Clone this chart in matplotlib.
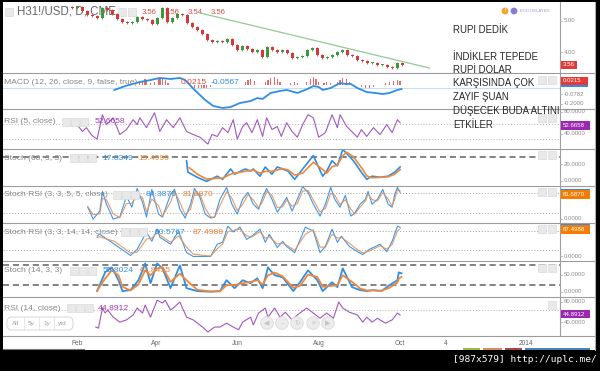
import numpy as np
import matplotlib
matplotlib.use("Agg")
import matplotlib.pyplot as plt
from matplotlib.patches import Rectangle, Circle, FancyBboxPatch
from matplotlib.lines import Line2D
from matplotlib.transforms import Affine2D

plt.rcParams['font.family'] = ['Liberation Sans', 'DejaVu Sans']

# ---------------- data (x = day of year 2013) ----------------
DATE_TICKS = [31, 90, 151, 212, 273, 307, 367]
DATE_LABELS = ['Feb', 'Apr', 'Jun', 'Aug', 'Oct', '4', '2014']

price_start, price_step = 23.5, 3.75
price_close = [5.45, 5.42, 5.45, 5.32, 5.19, 5.16, 5.10, 5.42, 5.35, 5.23,
               5.06, 4.97, 4.94, 4.97, 5.13, 5.06, 5.03, 4.90, 5.10, 5.42,
               4.97, 5.10, 5.23, 5.19, 4.94, 4.81, 4.71, 4.58, 4.39, 4.32,
               4.35, 4.32, 4.42, 4.23, 4.06, 4.19, 4.10, 4.00, 4.06, 3.84,
               4.16, 4.06, 4.00, 4.06, 3.97, 3.81, 3.84, 3.87, 4.06, 4.13,
               3.90, 3.81, 3.84, 3.90, 4.00, 4.06, 3.90, 3.87, 3.74, 3.71,
               3.65, 3.65, 3.58, 3.58, 3.52, 3.48, 3.65, 3.58]
trend_days = [123, 295]
trend_vals = [5.26, 3.48]

macd_days = [59, 67, 78, 86, 93, 101, 108, 112, 119, 127, 133, 140, 146, 153, 161,
             166, 170, 176, 183, 188, 196, 202, 208, 212, 215, 221, 228, 232, 236,
             241, 248, 254, 260, 265, 271, 274]
macd_vals = [-0.038, -0.008, 0.023, 0.038, 0.054, 0.046, 0.054, 0.038, -0.038, -0.115,
             -0.161, -0.176, -0.169, -0.138, -0.123, -0.100, -0.107, -0.061, -0.046,
             -0.038, -0.061, -0.038, -0.008, -0.015, -0.038, -0.023, 0.015, 0.008,
             0.008, -0.023, -0.054, -0.061, -0.069, -0.061, -0.038, -0.031]
hist_days = [78, 80, 82, 83, 86, 89, 92, 93, 95, 97, 99, 119, 122, 124, 126, 128, 131,
             157, 159, 161, 164, 172, 174, 176, 179, 181, 183, 191, 194, 196,
             203, 206, 208, 210, 212, 216, 218, 221, 226, 228, 230, 233, 235,
             244, 247, 250, 253, 262, 265, 268, 271, 273]
hist_vals = [0.015, 0.031, 0.046, 0.038, 0.015, 0.023, 0.046, 0.054, 0.054, 0.038, 0.015,
             -0.023, -0.031, -0.031, -0.031, -0.023, -0.015, 0.023, 0.038, 0.046, 0.031,
             0.023, 0.038, 0.054, 0.061, 0.046, 0.023, 0.015, 0.023, 0.015,
             0.023, 0.046, 0.061, 0.046, 0.023, 0.015, 0.023, 0.015,
             0.023, 0.038, 0.054, 0.046, 0.023, -0.015, -0.023, -0.023, -0.015,
             0.015, 0.023, 0.031, 0.038, 0.031]
macd_level = -0.023

rsi5_days = [31, 35, 38, 42, 46, 50, 53, 58, 63, 68, 73, 76, 78, 83, 89, 93, 98, 103,
             108, 113, 118, 123, 129, 132, 136, 140, 144, 148, 151, 155, 158, 162, 166,
             170, 173, 177, 181, 184, 188, 192, 196, 200, 204, 208, 212, 217, 222, 226,
             228, 233, 241, 244, 248, 253, 258, 263, 267, 271, 273]
rsi5_vals = [69, 51, 61, 41, 31, 95, 69, 87, 43, 56, 82, 69, 87, 61, 100, 51, 82, 61,
             87, 51, 43, 36, 18, 43, 38, 61, 48, 82, 31, 64, 74, 48, 82, 38, 87, 56,
             64, 38, 74, 51, 36, 69, 95, 87, 36, 48, 95, 61, 95, 64, 36, 56, 38, 61,
             43, 69, 48, 82, 74]

s60k_days = [113, 114, 121, 128, 136, 140, 146, 149, 157, 161, 163, 168, 172, 177, 181,
             185, 189, 194, 200, 208, 215, 218, 222, 226, 230, 233, 238, 245, 248, 252,
             258, 264, 269, 273]
s60k_vals = [22.6, 10.2, 4.5, 0, 5.7, 2.3, 13.6, 7.9, 13.6, 11.3, 13.6, 5.7, 15.8, 7.9,
             15.8, 13.6, 11.3, 2.3, 13.6, 28.3, 5.7, 11.3, 22.6, 17, 35, 30.5, 22.6, 7.9,
             2.3, 5.7, 4.5, 5.7, 10.2, 15.8]
s60d_days = [115, 121, 128, 136, 140, 146, 149, 157, 161, 163, 168, 172, 177, 181, 185,
             189, 194, 200, 208, 215, 218, 222, 226, 230, 233, 238, 245, 248, 252, 258,
             264, 269, 273]
s60d_vals = [15, 8, 2.5, 3.5, 3.5, 8, 9, 11, 12, 12.5, 9, 11, 11, 12.5, 14, 12.5, 7, 9,
             21, 13, 9, 16, 18, 28, 32, 27, 13, 6, 4, 4.5, 5, 8, 13]
s60_level = 27

srsi5_days = [39, 43, 48, 50, 53, 58, 63, 68, 72, 76, 80, 83, 87, 92, 95, 101, 104, 108,
              112, 116, 119, 123, 127, 131, 134, 138, 143, 147, 151, 155, 159, 163, 167,
              170, 173, 177, 181, 185, 188, 192, 196, 200, 204, 208, 213, 217, 221, 224,
              228, 232, 236, 239, 243, 247, 249, 252, 256, 260, 264, 267, 269, 271, 273]
srsi5_k = [38, 2, 26, 86, 47, 2, 8, 71, 38, 95, 53, 8, 92, 17, 8, 77, 92, 32, 5, 47, 95,
           68, 17, 5, 8, 62, 98, 47, 17, 62, 83, 47, 32, 68, 95, 62, 23, 47, 68, 26, 62,
           100, 83, 47, 11, 47, 98, 62, 38, 74, 11, 20, 47, 62, 86, 47, 62, 92, 47, 38,
           77, 98, 83]
srsi5_d = [40, 15, 18, 65, 61, 18, 6, 49, 50, 75, 68, 24, 63, 43, 11, 53, 87, 53, 15, 32,
           78, 78, 35, 9, 7, 43, 85, 65, 28, 46, 76, 60, 37, 55, 86, 74, 37, 39, 61, 41,
           49, 87, 89, 60, 24, 34, 80, 75, 46, 61, 33, 17, 38, 57, 78, 61, 57, 82, 63,
           41, 63, 91, 88]

srsi14_days = [46, 48, 59, 71, 76, 83, 87, 91, 93, 101, 107, 113, 118, 131, 136, 140,
               144, 148, 153, 158, 162, 168, 172, 175, 181, 185, 188, 194, 202, 208, 213,
               217, 222, 226, 229, 235, 241, 245, 250, 258, 263, 267, 271, 273]
srsi14_k = [64, 70, 39, 4, 23, 77, 48, 86, 61, 39, 80, 13, 1, 1, 39, 45, 95, 77, 92, 54,
            64, 86, 45, 70, 29, 48, 32, 13, 92, 80, 13, 32, 86, 45, 64, 32, 16, 7, 23,
            39, 16, 48, 95, 92]
srsi14_d = [60, 62, 48, 12, 14, 55, 58, 75, 68, 45, 65, 30, 8, 2, 25, 40, 78, 82, 86, 65,
            62, 78, 58, 62, 40, 42, 36, 20, 70, 84, 30, 30, 70, 58, 60, 42, 22, 12, 18,
            34, 24, 38, 80, 87]

s14_days = [46, 52, 57, 62, 65, 71, 77, 82, 86, 91, 95, 101, 108, 113, 121, 131, 138, 143,
            149, 155, 161, 166, 170, 174, 179, 185, 193, 198, 204, 211, 215, 222, 226,
            230, 237, 243, 248, 253, 259, 265, 271, 272, 274]
s14_k = [2, 59, 74, 35, 2, 5, 35, 86, 26, 86, 71, 11, 80, 11, 2, 0, 2, 35, 11, 35, 26, 41,
         11, 74, 50, 44, 2, 29, 65, 35, 2, 29, 14, 71, 14, 5, 2, 5, 2, 20, 35, 59, 56]
s14_d = [3, 40, 65, 50, 15, 4, 22, 65, 50, 70, 75, 30, 55, 35, 6, 1, 1, 20, 20, 26, 30, 35,
         22, 50, 58, 47, 12, 18, 52, 45, 15, 18, 20, 50, 30, 10, 4, 4, 3, 12, 28, 40, 45]

rsi14_days = [45, 47, 50, 52, 54, 58, 63, 68, 73, 76, 80, 82, 86, 91, 95, 97, 101, 104,
              108, 113, 118, 125, 129, 134, 138, 143, 148, 152, 155, 161, 163, 167, 172,
              174, 179, 183, 187, 192, 196, 203, 208, 213, 218, 223, 227, 230, 235, 241,
              245, 248, 252, 256, 262, 267, 271, 273]
rsi14_vals = [39, 37, 73.6, 64.5, 70, 57, 48, 52, 61, 73.6, 64.5, 79, 57, 88, 82.7, 88, 70,
              75.5, 84.6, 57, 52, 39, 30, 39, 39, 46, 39, 34, 48, 57, 43, 64.5, 73.6, 57,
              73.6, 57, 66, 52, 61, 73.6, 64.5, 55, 64.5, 55, 84.6, 73.6, 66, 61, 48, 57,
              48, 55, 46, 52, 64.5, 61]

# ---------------- figure ----------------
W, H = 600, 371
fig = plt.figure(figsize=(W / 100, H / 100), dpi=100, facecolor='black')
PX = Affine2D().scale(1 / W, -1 / H).translate(0, 1) + fig.transFigure

BLUE = '#2f8de4'
ORANGE = '#f0883a'
PURPLE = '#a257c2'
GRAYTXT = '#858585'
XMIN, XMAX = -24.5, 392.4


def rect(x, y, w, h, fc, ec='none', lw=0, z=2):
    fig.add_artist(Rectangle((x, y), w, h, transform=PX, fc=fc, ec=ec, lw=lw, zorder=z))


def txt(x, y, s, size, color, ha='left', va='center', z=6, **kw):
    fig.text(x, y, s, transform=PX, fontsize=size, color=color, ha=ha, va=va,
             zorder=z, **kw)


def line(xs, ys, color='#9a9a9a', lw=0.8, z=4):
    fig.add_artist(Line2D(xs, ys, transform=PX, color=color, lw=lw, zorder=z))


def sq(x, y):
    rect(x, y - 4, 8, 8, '#e9e9e9', ec='#d4d4d4', lw=0.4, z=5)


def make_ax(top, bottom, ylim):
    ax = fig.add_axes([3 / W, 1 - bottom / H, (559.5 - 3) / W, (bottom - top) / H])
    ax.set_xlim(XMIN, XMAX)
    ax.set_ylim(*ylim)
    ax.patch.set_alpha(0)
    for s in ax.spines.values():
        s.set_visible(False)
    ax.set_xticks([])
    ax.set_yticks([])
    return ax


# white canvas
rect(3, 2, 593, 348, 'white', z=-5)

SEP = [73, 109, 149, 185.5, 223, 260.5, 297, 336]

# ---- price ----
axp = make_ax(3, 73, (3.32, 5.58))
axp.set_zorder(7)
pc = np.array(price_close)
pdays = price_start + price_step * np.arange(len(pc))
po = np.r_[pc[0], pc[:-1]]
ph = pc - po
ph = np.where(np.abs(ph) < 0.015, 0.015, ph)
cols = np.where(pc >= po, '#3a9a3a', '#d23a3a')
axp.vlines(pdays, np.minimum(po, pc) - 0.03, np.maximum(po, pc) + 0.03, colors=cols, lw=0.6)
axp.bar(pdays, ph, bottom=po, width=2.2, color=cols, linewidth=0)
axp.plot(trend_days, trend_vals, color='#93c993', lw=0.9)

# ---- MACD ----
axm = make_ax(73, 109, (-0.184, 0.092))
axm.axhline(macd_level, color='#c3e1f6', lw=0.8)
axm.bar(hist_days, hist_vals, width=1.0, color='#e36a6a', linewidth=0)
axm.plot(macd_days, macd_vals, color=BLUE, lw=1.3)

# ---- RSI 5 ----
axr5 = make_ax(109, 149, (5, 110))
for lv in (70, 30):
    axr5.axhline(lv, color='#b0b0b0', lw=0.7, ls=(0, (1, 2)))
axr5.plot(rsi5_days, rsi5_vals, color=PURPLE, lw=0.8)

# ---- Stoch 60 ----
axs60 = make_ax(149, 185.5, (-4.5, 35.5))
axs60.axhline(s60_level, color='#606060', lw=1.1, ls=(0, (4, 2.5)))
axs60.plot(s60k_days, s60k_vals, color=BLUE, lw=1.2)
axs60.plot(s60d_days, s60d_vals, color=ORANGE, lw=1.2)

# ---- Stoch RSI 5 ----
axsr5 = make_ax(185.5, 223, (-10, 104))
for lv in (80, 20):
    axsr5.axhline(lv, color='#a0a0a0', lw=0.7, ls=(0, (1, 2)))
axsr5.plot(srsi5_days, srsi5_k, color='#3d97ea', lw=0.8)
axsr5.plot(srsi5_days, srsi5_d, color='#e0915a', lw=0.8, alpha=0.9)

# ---- Stoch RSI 14 ----
axsr14 = make_ax(223, 260.5, (-11.6, 105))
for lv in (80, 20):
    axsr14.axhline(lv, color='#a0a0a0', lw=0.7, ls=(0, (1, 2)))
axsr14.plot(srsi14_days, srsi14_k, color='#3d97ea', lw=0.8)
axsr14.plot(srsi14_days, srsi14_d, color='#e0915a', lw=0.8, alpha=0.9)

# ---- Stoch 14 ----
axs14 = make_ax(260.5, 297, (-16, 95))
for lv in (80, 20):
    axs14.axhline(lv, color='#606060', lw=1.1, ls=(0, (4, 2.5)))
axs14.plot(s14_days, s14_k, color=BLUE, lw=1.3)
axs14.plot(s14_days, s14_d, color=ORANGE, lw=1.3)

# ---- RSI 14 ----
axr14 = make_ax(297, 336, (22.7, 93.7))
axr14.axhline(70, color='#b0b0b0', lw=0.7, ls=(0, (1, 2)))
axr14.plot(rsi14_days, rsi14_vals, color=PURPLE, lw=0.8)
axr14.set_xticks(DATE_TICKS)
axr14.set_xticklabels(DATE_LABELS)
axr14.tick_params(axis='x', length=0, pad=3.2, labelsize=4.8, labelcolor='#666666')

# ---- separators & axis lines ----
for y in SEP:
    line([3, 595], [y, y], color='#9c9c9c', lw=0.8)
line([559.5, 559.5], [2, 336], color='#a0a0a0', lw=0.8)
line([595, 595], [2, 350], color='#b0b0b0', lw=0.8)
line([3, 84], [349, 349], color='#777777', lw=0.8)

# ---- legends (left) ----
sq(5, 12)
txt(17, 12, 'H31!/USD, D, CME', 8.3, '#666666', z=5)
sq(118, 12); sq(128, 12)
for i, s in enumerate(['3.56', '3.56', '3.54', '3.56']):
    txt(142 + 23 * i, 12, s, 5.6, '#e04a44')

txt(4, 82, 'MACD (12, 26, close, 9, false, true)', 6.1, GRAYTXT)
txt(181, 82, '0.0215', 6.1, '#e04a44')
txt(211, 82, '-0.0567', 6.1, BLUE)

txt(4, 121.5, 'RSI (5, close)', 6.1, GRAYTXT)
sq(62, 121.5); sq(71, 121.5); sq(80, 121.5)
txt(95, 121.5, '52.6658', 6.1, '#9b39b0')

txt(4, 158, 'Stoch (60, 3, 3)', 6.1, GRAYTXT)
sq(70, 158); sq(79, 158); sq(88, 158)
txt(102, 158, '17.8349', 6.1, BLUE)
txt(138, 158, '19.4999', 6.1, '#e8813a')

txt(4, 195, 'Stoch RSI (3, 3, 5, 5, close)', 6.1, GRAYTXT)
sq(113, 195); sq(122, 195); sq(131, 195)
txt(146, 195, '84.3876', 6.1, BLUE)
txt(183, 195, '81.6870', 6.1, '#e8813a')

txt(4, 232, 'Stoch RSI (3, 3, 14, 14, close)', 6.1, GRAYTXT)
sq(121, 232); sq(130, 232); sq(139, 232)
txt(155, 232, '90.5767', 6.1, BLUE)
txt(193, 232, '87.4988', 6.1, '#e8813a')

txt(4, 271, 'Stoch (14, 3, 3)', 6.1, GRAYTXT)
sq(70, 271); sq(79, 271); sq(88, 271)
txt(103, 271, '55.8024', 6.1, BLUE)
txt(140, 271, '61.8455', 6.1, '#e8813a')

txt(4, 308, 'RSI (14, close)', 6.1, GRAYTXT)
sq(67, 308); sq(76, 308); sq(85, 308)
txt(98, 308, '44.8912', 6.1, '#9b39b0')

# right-side icons
for y in (80, 118, 155, 192, 229, 268):
    sq(538, y); sq(548, y)
sq(548, 305)

# ---- right axis labels ----
TICKC = '#8a8a8a'
for s, y in [('5.00', 21), ('4.00', 52), ('-0.0782', 94), ('-0.2000', 103.5),
             ('80.0000', 111.5), ('40.0000', 133.5), ('20.0000', 164), ('0.0000', 181),
             ('0.0000', 218.5), ('0.0000', 256), ('50.0000', 275), ('0.0000', 291.5),
             ('80.0000', 301.5), ('40.0000', 322)]:
    txt(564, y, s, 4.3, TICKC)
    line([559.5, 562], [y, y], color='#b0b0b0', lw=0.6)


def tag(y, s, fc, w=29, back=None):
    if back is not None:
        rect(561, back[0], w, back[1], BLUE, z=6)
    rect(561, y - 4.3, w, 8.6, fc, z=7)
    txt(562.5, y, s, 4.4, 'white', z=8)


tag(65, '3.56', '#e03a3a', w=16)
tag(81, '0.0215', '#e53935', w=27, back=(77, 10))
tag(125.5, '52.6658', '#9c27b0')
tag(194.3, '81.6870', '#f57c00', back=(188.5, 9))
tag(229.7, '87.4988', '#f57c00', back=(224, 8.5))
tag(314, '44.8912', '#9c27b0')

# ---- EOD badge ----
fig.add_artist(Circle((505, 11), 3.4, transform=PX, fc='#f5a030', ec='none', zorder=6))
txt(505, 11, '!', 4, 'white', ha='center', z=7)
fig.add_artist(Circle((514, 11), 3.4, transform=PX, fc='#8c7bd0', ec='none', zorder=6))
txt(520, 11, 'EOD DELAYED', 3.0, '#9c92d8')

# ---- range buttons ----
fig.add_artist(FancyBboxPatch((7, 317), 66, 13, boxstyle='round,pad=0,rounding_size=5',
                              transform=PX, fc='white', ec='#d0d0d0', lw=0.6, zorder=6))
for xv in (24, 39, 54):
    line([xv, xv], [317, 330], color='#dddddd', lw=0.5, z=7)
for s, xv in [('All', 15.5), ('5y', 31.5), ('1y', 46.5), ('ytd', 62)]:
    txt(xv, 323.5, s, 4.6, '#a0a0a0', ha='center', z=8)

# ---- navigation circles ----
for xv, s in zip([267, 282, 297, 313, 328], ['\u25C0', '\u2013', '\u21BB', '+', '\u25B6']):
    fig.add_artist(Circle((xv, 323), 6.3, transform=PX, fc='#ececec', ec='#dadada',
                          lw=0.6, zorder=6))
    txt(xv, 323, s, 5, '#c4c4c4', ha='center', z=7, family=['DejaVu Sans'])

# ---- button tops at the bottom ----
for x0, x1, c in [(463, 480, '#8fbf4a'), (483, 502, '#d88a60'), (505, 522, '#a84545'),
                  (525, 590, '#4a7fc0')]:
    rect(x0, 347.5, x1 - x0, 2.5, c, z=6)

# ---- user annotation ----
ANN = ['RUPI DEDİK', '', 'İNDİKLER TEPEDE', 'RUPİ DOLAR', 'KARŞISINDA ÇOK',
       'ZAYIF ŞUAN', 'DÜŞECEK BUDA ALTINI', 'ETKİLER']
ann_y = [30, 43.5, 57, 70, 83.5, 97.5, 111, 125]
for s, y in zip(ANN, ann_y):
    if s:
        txt(453, y, s, 6.9, '#262626', z=10, family=['Liberation Sans', 'DejaVu Sans'])

# ---- watermark ----
txt(597, 359, '[987x579] http://uplc.me/', 6.8, 'white', ha='right', z=10,
    family=['DejaVu Sans Mono'])

fig.savefig('out.png', dpi=100, facecolor='black')
